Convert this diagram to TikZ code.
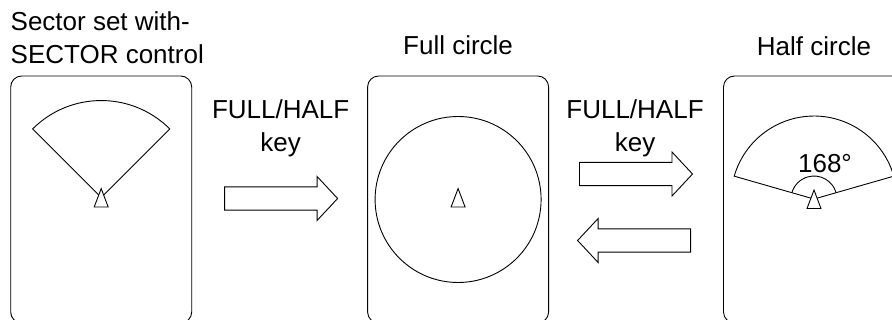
\documentclass[tikz,border=0pt]{standalone}
\usepackage{fontspec}
\setmainfont{Liberation Sans}
\usetikzlibrary{positioning,calc,shapes.arrows}

\begin{document}
\begin{tikzpicture}[
        x=1pt, y=1pt,
        font=\fontsize{26}{33}\selectfont,
        line width=0.9pt,
        screenbox/.style={draw, rounded corners=11pt, minimum width=181pt, minimum height=247pt, inner sep=0pt},
        keyarrow/.style={single arrow, draw, fill=white, minimum height=113pt, inner xsep=0pt, inner ysep=11.2pt, single arrow head extend=10.3pt, single arrow tip angle=94, anchor=tail},
        keylabel/.style={align=center, inner sep=0pt, anchor=north},
        ownship/.pic={\draw[fill=white] (-7,-9.5) -- (0,9) -- (7,-9.5) -- cycle;},
]
        \useasboundingbox (0,0) rectangle (892,320);
        \clip (0,0) rectangle (892,320);

        \node[screenbox] (sectorbox) at (101.2,120.5) {};
        \node[screenbox] (fullbox) [right=175pt of sectorbox] {};
        \node[screenbox] (halfbox) [right=174pt of fullbox] {};

        \node[align=left, inner sep=0pt] (sectortitle) [above=11pt of sectorbox.north west, anchor=south west] {Sector set with-\\SECTOR control};
        \node[anchor=base] (fulltitle) at ($(fullbox.north)+(0,21)$) {Full circle};
        \node[anchor=base] (halftitle) at ($(halfbox.north)+(0,20)$) {Half circle};

        \node[keyarrow] (fullarrow) at ($(sectorbox.east)+(32,1)$) {};
        \node[keyarrow] (halfarrow) at ($(fullbox.east)+(30,25.5)$) {};
        \node[keyarrow, shape border rotate=180] (backarrow) at ($(halfbox.west)+(-32,-41)$) {};

        \node[keylabel] (fulllabel) at ($(sectorbox.north east)!0.5!(fullbox.north west)+(1,-24)$) {FULL/HALF\\key};
        \node[keylabel] (halflabel) at ($(fullbox.north east)!0.5!(halfbox.north west)+(-1,-24)$) {FULL/HALF\\key};

        % sector screen
        \coordinate (sectorpos) at ($(sectorbox.north)+(0,-122)$);
        \draw (sectorpos) -- ++(45:97) arc[start angle=45, end angle=135, radius=97] -- cycle;
        \pic at (sectorpos) {ownship};

        % full circle screen
        \draw (fullbox.center) circle[radius=83];
        \pic at ($(fullbox.north)+(0,-122)$) {ownship};

        % half circle screen
        \coordinate (halfpos) at ($(halfbox.north)+(0,-123.5)$);
        \draw (halfpos) -- ++(16:83) arc[start angle=16, end angle=164, radius=83] -- cycle;
        \draw ($(halfpos)+(16:23)$) arc[start angle=16, end angle=164, radius=23];
        \pic at (halfpos) {ownship};
        \node[anchor=base] (anglelabel) at ($(halfpos)+(11,26.5)$) {168°};
\end{tikzpicture}
\end{document}
